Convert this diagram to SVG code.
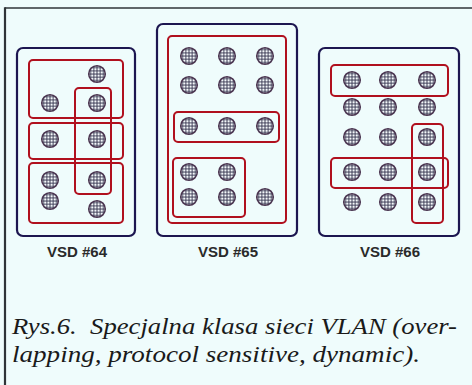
<svg xmlns="http://www.w3.org/2000/svg" width="472" height="385" viewBox="0 0 472 385">
  <defs>
    <!-- mesh fill for station dots -->
    <pattern id="mesh" patternUnits="userSpaceOnUse" width="3.2" height="3.2">
      <rect width="3.2" height="3.2" fill="#5a5a70"/>
      <circle cx="1.6" cy="1.6" r="1.2" fill="#f4f8fa"/>
    </pattern>
    <symbol id="station" overflow="visible">
      <circle cx="0" cy="0" r="8.3" fill="url(#mesh)" stroke="#4a3550" stroke-width="1.5"/>
    </symbol>
    <style>
      .vsd { fill: none; stroke: #1c1650; stroke-width: 2.2; }
      .vlan { fill: none; stroke: #b0101e; stroke-width: 2; }
      .lbl { font-family: "Liberation Sans", Arial, sans-serif; font-size: 15px; font-weight: bold; fill: #2a2a2a; text-anchor: middle; }
      .cap { font-family: "Liberation Serif", "Times New Roman", serif; font-style: italic; font-size: 24px; fill: #1a1a1a; }
    </style>
  </defs>

  <!-- page background and frame -->
  <rect width="472" height="385" fill="#effcfc"/>
  <line x1="5" y1="8" x2="472" y2="8" stroke="#2f3438" stroke-width="1.6"/>
  <line x1="5" y1="7.2" x2="5" y2="385" stroke="#2f3438" stroke-width="2.2"/>

  <!-- switch VSD #64 -->
  <g id="vsd64">
    <rect class="vsd" x="17" y="48" width="118" height="188" rx="6"/>
    <rect class="vlan" x="29" y="60" width="94" height="58" rx="4"/>
    <rect class="vlan" x="29" y="123" width="94" height="36" rx="4"/>
    <rect class="vlan" x="29" y="163" width="94" height="60" rx="4"/>
    <rect class="vlan" x="75" y="88" width="36" height="106" rx="4"/>
    <use href="#station" x="97" y="74"/>
    <use href="#station" x="50" y="103"/>
    <use href="#station" x="97" y="103"/>
    <use href="#station" x="50" y="139"/>
    <use href="#station" x="97" y="139"/>
    <use href="#station" x="50" y="180"/>
    <use href="#station" x="97" y="180"/>
    <use href="#station" x="50" y="201"/>
    <use href="#station" x="97" y="209"/>
    <text class="lbl" x="77" y="257">VSD #64</text>
  </g>

  <!-- switch VSD #65 -->
  <g id="vsd65">
    <rect class="vsd" x="157" y="24" width="140" height="212" rx="6"/>
    <rect class="vlan" x="168" y="36" width="118" height="187" rx="4"/>
    <rect class="vlan" x="174" y="112" width="105" height="30" rx="4"/>
    <rect class="vlan" x="173" y="158" width="72" height="59" rx="4"/>
    <use href="#station" x="189" y="56"/>
    <use href="#station" x="227" y="56"/>
    <use href="#station" x="265" y="56"/>
    <use href="#station" x="189" y="85"/>
    <use href="#station" x="227" y="85"/>
    <use href="#station" x="265" y="85"/>
    <use href="#station" x="189" y="126"/>
    <use href="#station" x="227" y="126"/>
    <use href="#station" x="265" y="126"/>
    <use href="#station" x="189" y="172"/>
    <use href="#station" x="227" y="172"/>
    <use href="#station" x="189" y="197"/>
    <use href="#station" x="227" y="197"/>
    <use href="#station" x="265" y="197"/>
    <text class="lbl" x="228" y="257">VSD #65</text>
  </g>

  <!-- switch VSD #66 -->
  <g id="vsd66">
    <rect class="vsd" x="319" y="48" width="140" height="188" rx="6"/>
    <rect class="vlan" x="331" y="65" width="117" height="31" rx="4"/>
    <rect class="vlan" x="331" y="158" width="117" height="30" rx="4"/>
    <rect class="vlan" x="412" y="124" width="31" height="99" rx="4"/>
    <use href="#station" x="352" y="80"/>
    <use href="#station" x="388" y="80"/>
    <use href="#station" x="427" y="80"/>
    <use href="#station" x="352" y="107"/>
    <use href="#station" x="388" y="107"/>
    <use href="#station" x="427" y="107"/>
    <use href="#station" x="352" y="137"/>
    <use href="#station" x="388" y="137"/>
    <use href="#station" x="427" y="137"/>
    <use href="#station" x="352" y="172"/>
    <use href="#station" x="388" y="172"/>
    <use href="#station" x="427" y="172"/>
    <use href="#station" x="352" y="202"/>
    <use href="#station" x="388" y="202"/>
    <use href="#station" x="427" y="202"/>
    <text class="lbl" x="390" y="257">VSD #66</text>
  </g>

  <!-- connectors: none in this figure -->
  <g id="connectors"/>

  <!-- caption -->
  <text class="cap" x="12" y="334" textLength="445" lengthAdjust="spacingAndGlyphs">Rys.6.&#160; Specjalna klasa sieci VLAN (over-</text>
  <text class="cap" x="12" y="362" textLength="408" lengthAdjust="spacingAndGlyphs">lapping, protocol sensitive, dynamic).</text>
</svg>
